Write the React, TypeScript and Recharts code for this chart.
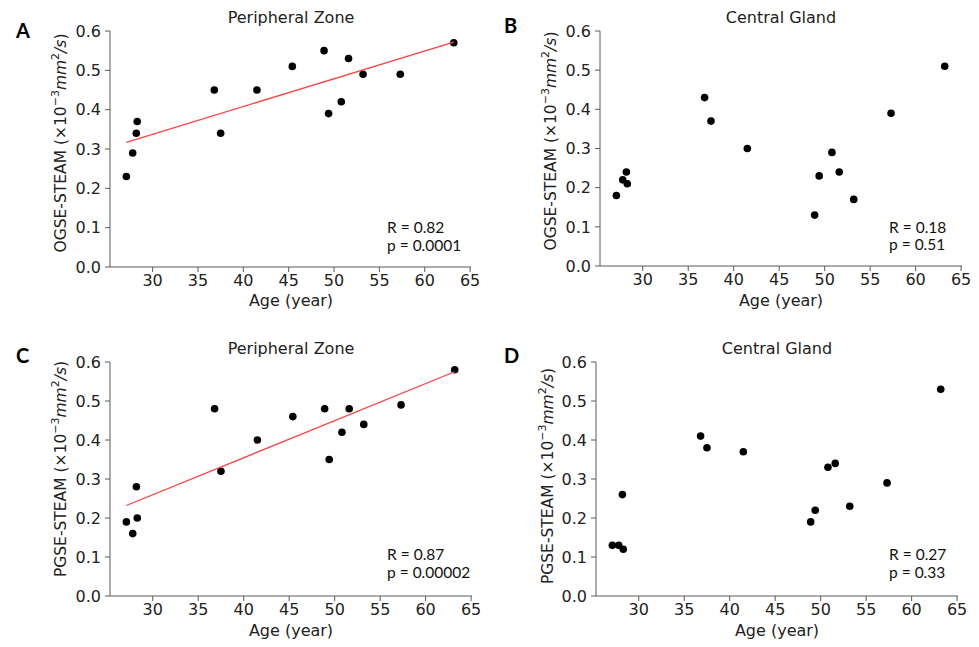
import { Scatter, ScatterChart, XAxis, YAxis } from 'recharts';

// ages of the subjects (years); the central-gland set lacks the 45.4 case
const pzAges = [27.1, 27.8, 28.2, 28.3, 36.8, 37.5, 41.5, 45.4, 48.9, 49.4, 50.8, 51.6, 53.2, 57.3, 63.2];
const cgAges = [27.1, 27.8, 28.2, 28.3, 36.8, 37.5, 41.5, 48.9, 49.4, 50.8, 51.6, 53.2, 57.3, 63.2];

const ogsePz = [0.23, 0.29, 0.34, 0.37, 0.45, 0.34, 0.45, 0.51, 0.55, 0.39, 0.42, 0.53, 0.49, 0.49, 0.57];
const ogseCg = [0.18, 0.22, 0.24, 0.21, 0.43, 0.37, 0.3, 0.13, 0.23, 0.29, 0.24, 0.17, 0.39, 0.51];
const pgsePz = [0.19, 0.16, 0.28, 0.2, 0.48, 0.32, 0.4, 0.46, 0.48, 0.35, 0.42, 0.48, 0.44, 0.49, 0.58];
const pgseCg = [0.13, 0.13, 0.26, 0.12, 0.41, 0.38, 0.37, 0.19, 0.22, 0.33, 0.34, 0.23, 0.29, 0.53];

// regression line end points
const fitAges = [27.1, 63.2];
const fitOgsePz = [0.317, 0.572];
const fitPgsePz = [0.232, 0.575];

const xTicks = [30, 35, 40, 45, 50, 55, 60, 65];
const yTicks = [0, 0.1, 0.2, 0.3, 0.4, 0.5, 0.6];

const toPts = (ages: number[], vals: number[]) => ages.map((age, i) => ({ age, v: vals[i] }));

const FRAME = '#5a5a5a';
const DV = 'DejaVu Sans, sans-serif';
const CAL = 'Lato, sans-serif';
const FS = 16;

const dot = (p: any) => <circle cx={p.cx} cy={p.cy} r={3.8} fill="#000" />;

function Panel({ left, top, w, h, pts, fit }: { left: number; top: number; w: number; h: number; pts: any[]; fit?: any[] }) {
  const tick = { fontSize: FS, fill: '#222', fontFamily: DV };
  return (
    <div style={{ position: 'absolute', left: left - 60, top: top - 10 }}>
      <ScatterChart width={w + 70} height={h + 60} margin={{ top: 10, right: 10, bottom: 0, left: 0 }}>
        <XAxis type="number" dataKey="age" domain={[25.3, 65.1]} ticks={xTicks} allowDataOverflow
          height={50} tickSize={5} tickMargin={3} stroke={FRAME} tick={tick} />
        <XAxis xAxisId="top" orientation="top" type="number" dataKey="age" domain={[25.3, 65.1]}
          height={0} tick={false} tickLine={false} stroke={FRAME} />
        <YAxis type="number" dataKey="v" domain={[0, 0.6]} ticks={yTicks} allowDataOverflow width={60}
          tickSize={5} tickMargin={4} stroke={FRAME} tick={tick} tickFormatter={(t: number) => t.toFixed(1)} />
        <YAxis yAxisId="right" orientation="right" type="number" dataKey="v" domain={[0, 0.6]}
          width={0} tick={false} tickLine={false} stroke={FRAME} />
        <Scatter data={pts} shape={dot} isAnimationActive={false} />
        {fit && (
          <Scatter data={fit} line={{ stroke: '#ff4040', strokeWidth: 1.3 }} shape={() => <g />} isAnimationActive={false} />
        )}
      </ScatterChart>
    </div>
  );
}

function YLab({ x, y, name }: { x: number; y: number; name: string }) {
  return (
    <text transform={`translate(${x},${y}) rotate(-90)`} textAnchor="middle" dominantBaseline="central"
      fontFamily={DV} fontSize={15.5} fill="#222">
      {name} (×10
      <tspan dy={-6} fontSize={11}>−3</tspan>
      <tspan dy={6} fontStyle="italic">mm</tspan>
      <tspan dy={-6} fontSize={11}>2</tspan>
      <tspan dy={6} fontStyle="italic">/s</tspan>)
    </text>
  );
}

function Stats({ x, y, r, p }: { x: number; y: number; r: string; p: string }) {
  return (
    <g fontFamily={CAL} fontSize={15.5} fill="#111">
      <text x={x} y={y}>R = {r}</text>
      <text x={x} y={y + 17.5}>p = {p}</text>
    </g>
  );
}

export default function App() {
  return (
    <div style={{ position: 'absolute', left: 0, top: 0, width: 979, height: 647, background: '#fff' }}>
      <Panel left={110} top={31} w={361} h={236} pts={toPts(pzAges, ogsePz)} fit={toPts(fitAges, fitOgsePz)} />
      <Panel left={600} top={31} w={362} h={235} pts={toPts(cgAges, ogseCg)} />
      <Panel left={110} top={362} w={362} h={234} pts={toPts(pzAges, pgsePz)} fit={toPts(fitAges, fitPgsePz)} />
      <Panel left={596} top={362} w={362} h={234} pts={toPts(cgAges, pgseCg)} />
      <svg width={979} height={647} style={{ position: 'absolute', left: 0, top: 0, pointerEvents: 'none' }}>
        <g fontFamily={CAL} fontSize={20} fontWeight="bold" fill="#000">
          <text x={16} y={38}>A</text>
          <text x={504} y={33}>B</text>
          <text x={16} y={363}>C</text>
          <text x={504} y={363}>D</text>
        </g>
        <g fontFamily={DV} fontSize={FS} fill="#222" textAnchor="middle">
          <text x={291} y={23}>Peripheral Zone</text>
          <text x={781} y={23}>Central Gland</text>
          <text x={291} y={354}>Peripheral Zone</text>
          <text x={777} y={354}>Central Gland</text>
          <text x={291} y={306}>Age (year)</text>
          <text x={781} y={306}>Age (year)</text>
          <text x={291} y={636}>Age (year)</text>
          <text x={777} y={636}>Age (year)</text>
        </g>
        <YLab x={61} y={143} name="OGSE-STEAM" />
        <YLab x={551} y={141} name="OGSE-STEAM" />
        <YLab x={61} y={469} name="PGSE-STEAM" />
        <YLab x={548} y={476} name="PGSE-STEAM" />
        <Stats x={387} y={233} r="0.82" p="0.0001" />
        <Stats x={889} y={232.5} r="0.18" p="0.51" />
        <Stats x={387} y={560} r="0.87" p="0.00002" />
        <Stats x={889} y={560} r="0.27" p="0.33" />
      </svg>
    </div>
  );
}
